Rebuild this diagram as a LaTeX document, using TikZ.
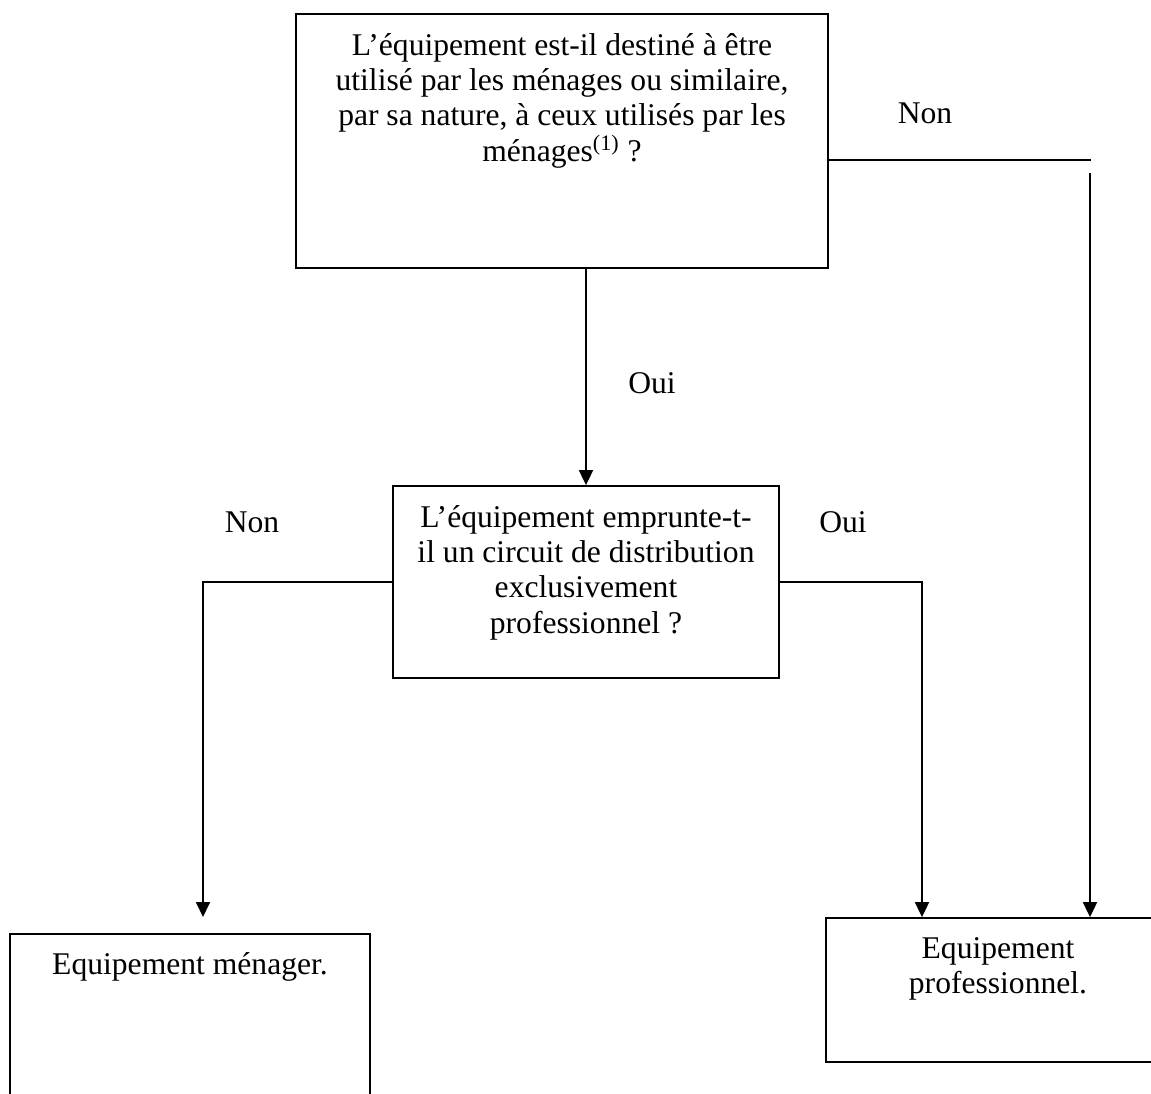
\documentclass[tikz,border=0pt]{standalone}
\usepackage{fontspec}
\setmainfont{Liberation Serif}
\usetikzlibrary{arrows.meta,positioning}
\tikzset{
  qbox/.style     = {draw,line width=0.9pt,inner sep=0pt},
  boxtext/.style  = {anchor=north,align=center,inner sep=0pt,font=\fontsize{15.8}{17.6}\selectfont},
  answer/.style   = {inner sep=0pt,font=\fontsize{15.8}{17.6}\selectfont},
  flowline/.style = {line width=0.9pt},
  flowarr/.style  = {-{Triangle[length=7.5pt,width=7pt]},line width=0.9pt}
}

\begin{document}
\begin{tikzpicture}[x=0.5pt,y=-0.5pt]
  \useasboundingbox (0,0) rectangle (1151,1093);
  % boxes
  \node[qbox,minimum width=266pt,minimum height=127pt] (qHousehold) at (562,141) {};
  \node[qbox,minimum width=193pt,minimum height=96pt] (qChannel) at (586,582) {};
  \node[qbox,minimum width=180pt,minimum height=93pt] (menBox) at (190,1027) {};
  \node[qbox,minimum width=172pt,minimum height=72pt] (proBox) at (998,990) {};
  % texts
  \node[boxtext,below=10pt of qHousehold.north] (qHouseholdText)
    {L’équipement est-il destiné à être\\utilisé par les ménages ou similaire,\\par sa nature, à ceux utilisés par les\\ménages\textsuperscript{(1)} ?};
  \node[boxtext,below=10pt of qChannel.north] (qChannelText)
    {L’équipement emprunte-t-\\il un circuit de distribution\\exclusivement\\professionnel ?};
  \node[boxtext,below=9.5pt of menBox.north] (menText) {Equipement ménager.};
  \node[boxtext,below=10pt of proBox.north] (proText) {Equipement\\professionnel.};
  % answers
  \node[answer] (nonTop) at (925,113) {Non};
  \node[answer] (ouiMid) at (652,383) {Oui};
  \node[answer] (nonLeft) at (252,522) {Non};
  \node[answer] (ouiRight) at (843,522) {Oui};
  % connectors
  \coordinate (nonEnd) at (1091,160);
  \coordinate (nonDrop) at (1090,173);
  \coordinate (leftDrop) at (203,917);
  \coordinate (rightDrop) at (922,0);
  \draw[flowline] (qHousehold.east |- nonEnd) -- (nonEnd);
  \draw[flowarr] (nonDrop) -- (nonDrop |- proBox.north);
  \draw[flowarr] (qHousehold.south -| qChannel.north) -- (qChannel.north);
  \draw[flowarr] (qChannel.west) -| (leftDrop);
  \draw[flowarr] (qChannel.east) -| (rightDrop |- proBox.north);
\end{tikzpicture}
\end{document}
